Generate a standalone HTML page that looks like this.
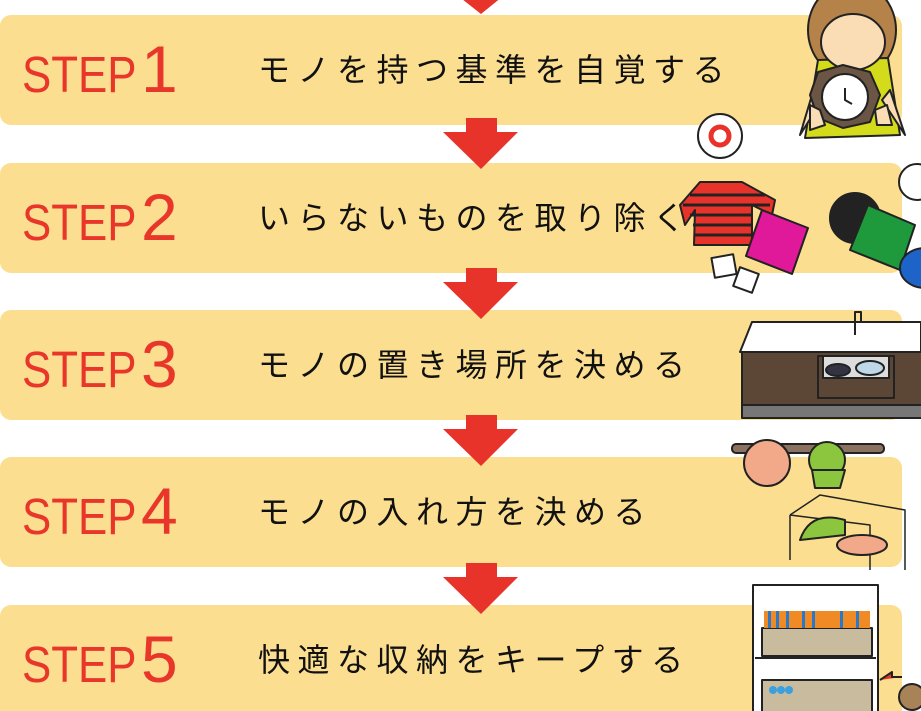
<!DOCTYPE html>
<html><head><meta charset="utf-8"><style>
html,body{margin:0;padding:0;background:#fff;}
#c{position:relative;width:921px;height:711px;overflow:hidden;background:#fff;}
.bar{position:absolute;left:0;width:902px;height:110px;background:#FCDE90;border-radius:11px;}
.st{position:absolute;left:22px;color:#E8362B;font-family:"Liberation Sans",sans-serif;white-space:nowrap;line-height:1;}
.st .s{font-size:51px;display:inline-block;transform:scaleX(0.86);transform-origin:left bottom;width:117px;}
.st .d{font-size:66px;display:inline-block;margin-left:2px;}
.jp{position:absolute;left:258px;font-family:"Noto Sans CJK JP","WenQuanYi Zen Hei",sans-serif;font-size:32px;letter-spacing:7.5px;line-height:32px;color:#111;white-space:nowrap;}
svg{position:absolute;left:0;top:0;}
</style></head><body><div id="c">
<div class="bar" style="top:15px"></div>
<div class="bar" style="top:163px"></div>
<div class="bar" style="top:310px"></div>
<div class="bar" style="top:457px"></div>
<div class="bar" style="top:605px;height:120px"></div>

<div class="st" style="top:36px"><span class="s">STEP</span><span class="d">1</span></div>
<div class="st" style="top:184px"><span class="s">STEP</span><span class="d">2</span></div>
<div class="st" style="top:331px"><span class="s">STEP</span><span class="d">3</span></div>
<div class="st" style="top:478px"><span class="s">STEP</span><span class="d">4</span></div>
<div class="st" style="top:626px"><span class="s">STEP</span><span class="d">5</span></div>

<div class="jp" style="top:52px">モノを持つ基準を自覚する</div>
<div class="jp" style="top:200px">いらないものを取り除く</div>
<div class="jp" style="top:347px">モノの置き場所を決める</div>
<div class="jp" style="top:494px">モノの入れ方を決める</div>
<div class="jp" style="top:642px">快適な収納をキープする</div>

<svg width="921" height="711" viewBox="0 0 921 711">
<g fill="#E8332A">
<polygon points="466,-20 497,-20 497,-16 518,-16 481,14 443,-16 466,-16"/>
<polygon points="466,118 497,118 497,132 518,132 481,169 443,132 466,132"/>
<polygon points="466,268 497,268 497,282 518,282 481,319 443,282 466,282"/>
<polygon points="466,415 497,415 497,429 518,429 481,466 443,429 466,429"/>
<polygon points="466,563 497,563 497,577 518,577 481,614 443,577 466,577"/>
</g>
<g stroke="#222" stroke-width="2" stroke-linejoin="round">
<ellipse cx="852" cy="30" rx="44" ry="48" fill="#B5824A"/>
<polygon points="818,60 888,58 900,135 805,138" fill="#D4DB1A"/>
<ellipse cx="853" cy="42" rx="32" ry="28" fill="#FADDB5"/>
<path d="M800,135 L815,85 L822,100 Z" fill="#FADDB5"/>
<path d="M905,135 L890,90 L882,100 Z" fill="#FADDB5"/>
<polygon points="843,65 870,72 880,95 870,122 843,128 818,118 810,95 818,72" fill="#6B5544"/>
<circle cx="845" cy="97" r="23" fill="#fff"/>
<path d="M845,88 L845,100 L852,104" fill="none"/>
<path d="M810,105 l10,5 l5,15 l-15,5z M875,110 l12,-5 l5,20 l-15,0z" fill="#FADDB5"/>
<circle cx="720" cy="136" r="22" fill="#fff"/>
<circle cx="720" cy="136" r="9" fill="none" stroke="#E8332A" stroke-width="5"/>
<path d="M700,182 L742,182 L775,200 L772,215 L752,205 L752,245 L694,245 L695,210 L685,225 L680,205 Z" fill="#E8332A"/>
<g stroke="#222" stroke-width="3"><line x1="690" y1="195" x2="765" y2="195"/><line x1="683" y1="205" x2="770" y2="205"/><line x1="690" y1="215" x2="752" y2="215"/><line x1="693" y1="225" x2="752" y2="225"/><line x1="694" y1="235" x2="752" y2="235"/></g>
<polygon points="762,210 808,228 792,274 746,256" fill="#E0189A"/>
<rect x="713" y="256" width="22" height="20" fill="#fff" transform="rotate(-10 724 266)"/>
<rect x="736" y="270" width="20" height="20" fill="#fff" transform="rotate(20 746 280)"/>
<circle cx="855" cy="218" r="25" fill="#222"/>
<polygon points="868,205 915,225 900,270 850,250" fill="#1E9A3C"/>
<ellipse cx="925" cy="268" rx="25" ry="20" fill="#1E64C8"/>
<circle cx="917" cy="182" r="18" fill="#fff"/>
<polygon points="752,322 921,322 921,352 740,352" fill="#fff"/>
<rect x="742" y="352" width="185" height="55" fill="#5C4636"/>
<rect x="742" y="405" width="185" height="13" fill="#777"/>
<rect x="818" y="356" width="76" height="42" fill="#5C4636"/>
<rect x="823" y="356" width="66" height="22" fill="#ddd"/>
<ellipse cx="838" cy="370" rx="12" ry="6" fill="#334"/>
<ellipse cx="870" cy="368" rx="14" ry="7" fill="#BFD8E8"/>
<path d="M855,335 L855,312 L861,312 L861,322" fill="none"/>
<rect x="732" y="444" width="152" height="9" rx="4" fill="#8B7260"/>
<circle cx="767" cy="463" r="23" fill="#F2A98A"/>
<circle cx="827" cy="460" r="18" fill="#8CC63F"/>
<path d="M812,470 L845,470 L840,488 L815,488 Z" fill="#8CC63F"/>
<path d="M790,515 L820,495 L905,510 L905,570 M790,515 L790,560 M790,515 L870,525 L870,570" fill="none" stroke-width="1.5"/>
<path d="M800,540 Q810,510 845,520 L845,535 Z" fill="#8CC63F"/>
<ellipse cx="862" cy="545" rx="25" ry="10" fill="#F2A98A"/>
<rect x="753" y="585" width="125" height="130" fill="#fff"/>
<line x1="755" y1="658" x2="876" y2="658"/>
<rect x="762" y="628" width="110" height="28" fill="#C9BC9E"/>
<rect x="762" y="680" width="110" height="35" fill="#C9BC9E"/>
<path d="M880,680 l12,-8 l0,5 l10,0" fill="#E8332A"/>
<circle cx="912" cy="697" r="13" fill="#A88357"/>
</g>
<g>
<rect x="764" y="611" width="106" height="17" fill="#F08A24"/>
<g fill="#2B78C8"><rect x="768" y="611" width="3" height="17"/><rect x="776" y="611" width="3" height="17"/><rect x="786" y="611" width="3" height="17"/><rect x="802" y="611" width="3" height="17"/><rect x="812" y="611" width="3" height="17"/><rect x="840" y="611" width="3" height="17"/><rect x="856" y="611" width="3" height="17"/></g>
<g fill="#3BA0DD"><circle cx="773" cy="690" r="4"/><circle cx="781" cy="690" r="4"/><circle cx="789" cy="690" r="4"/></g>
</g>
</svg>
</div></body></html>
